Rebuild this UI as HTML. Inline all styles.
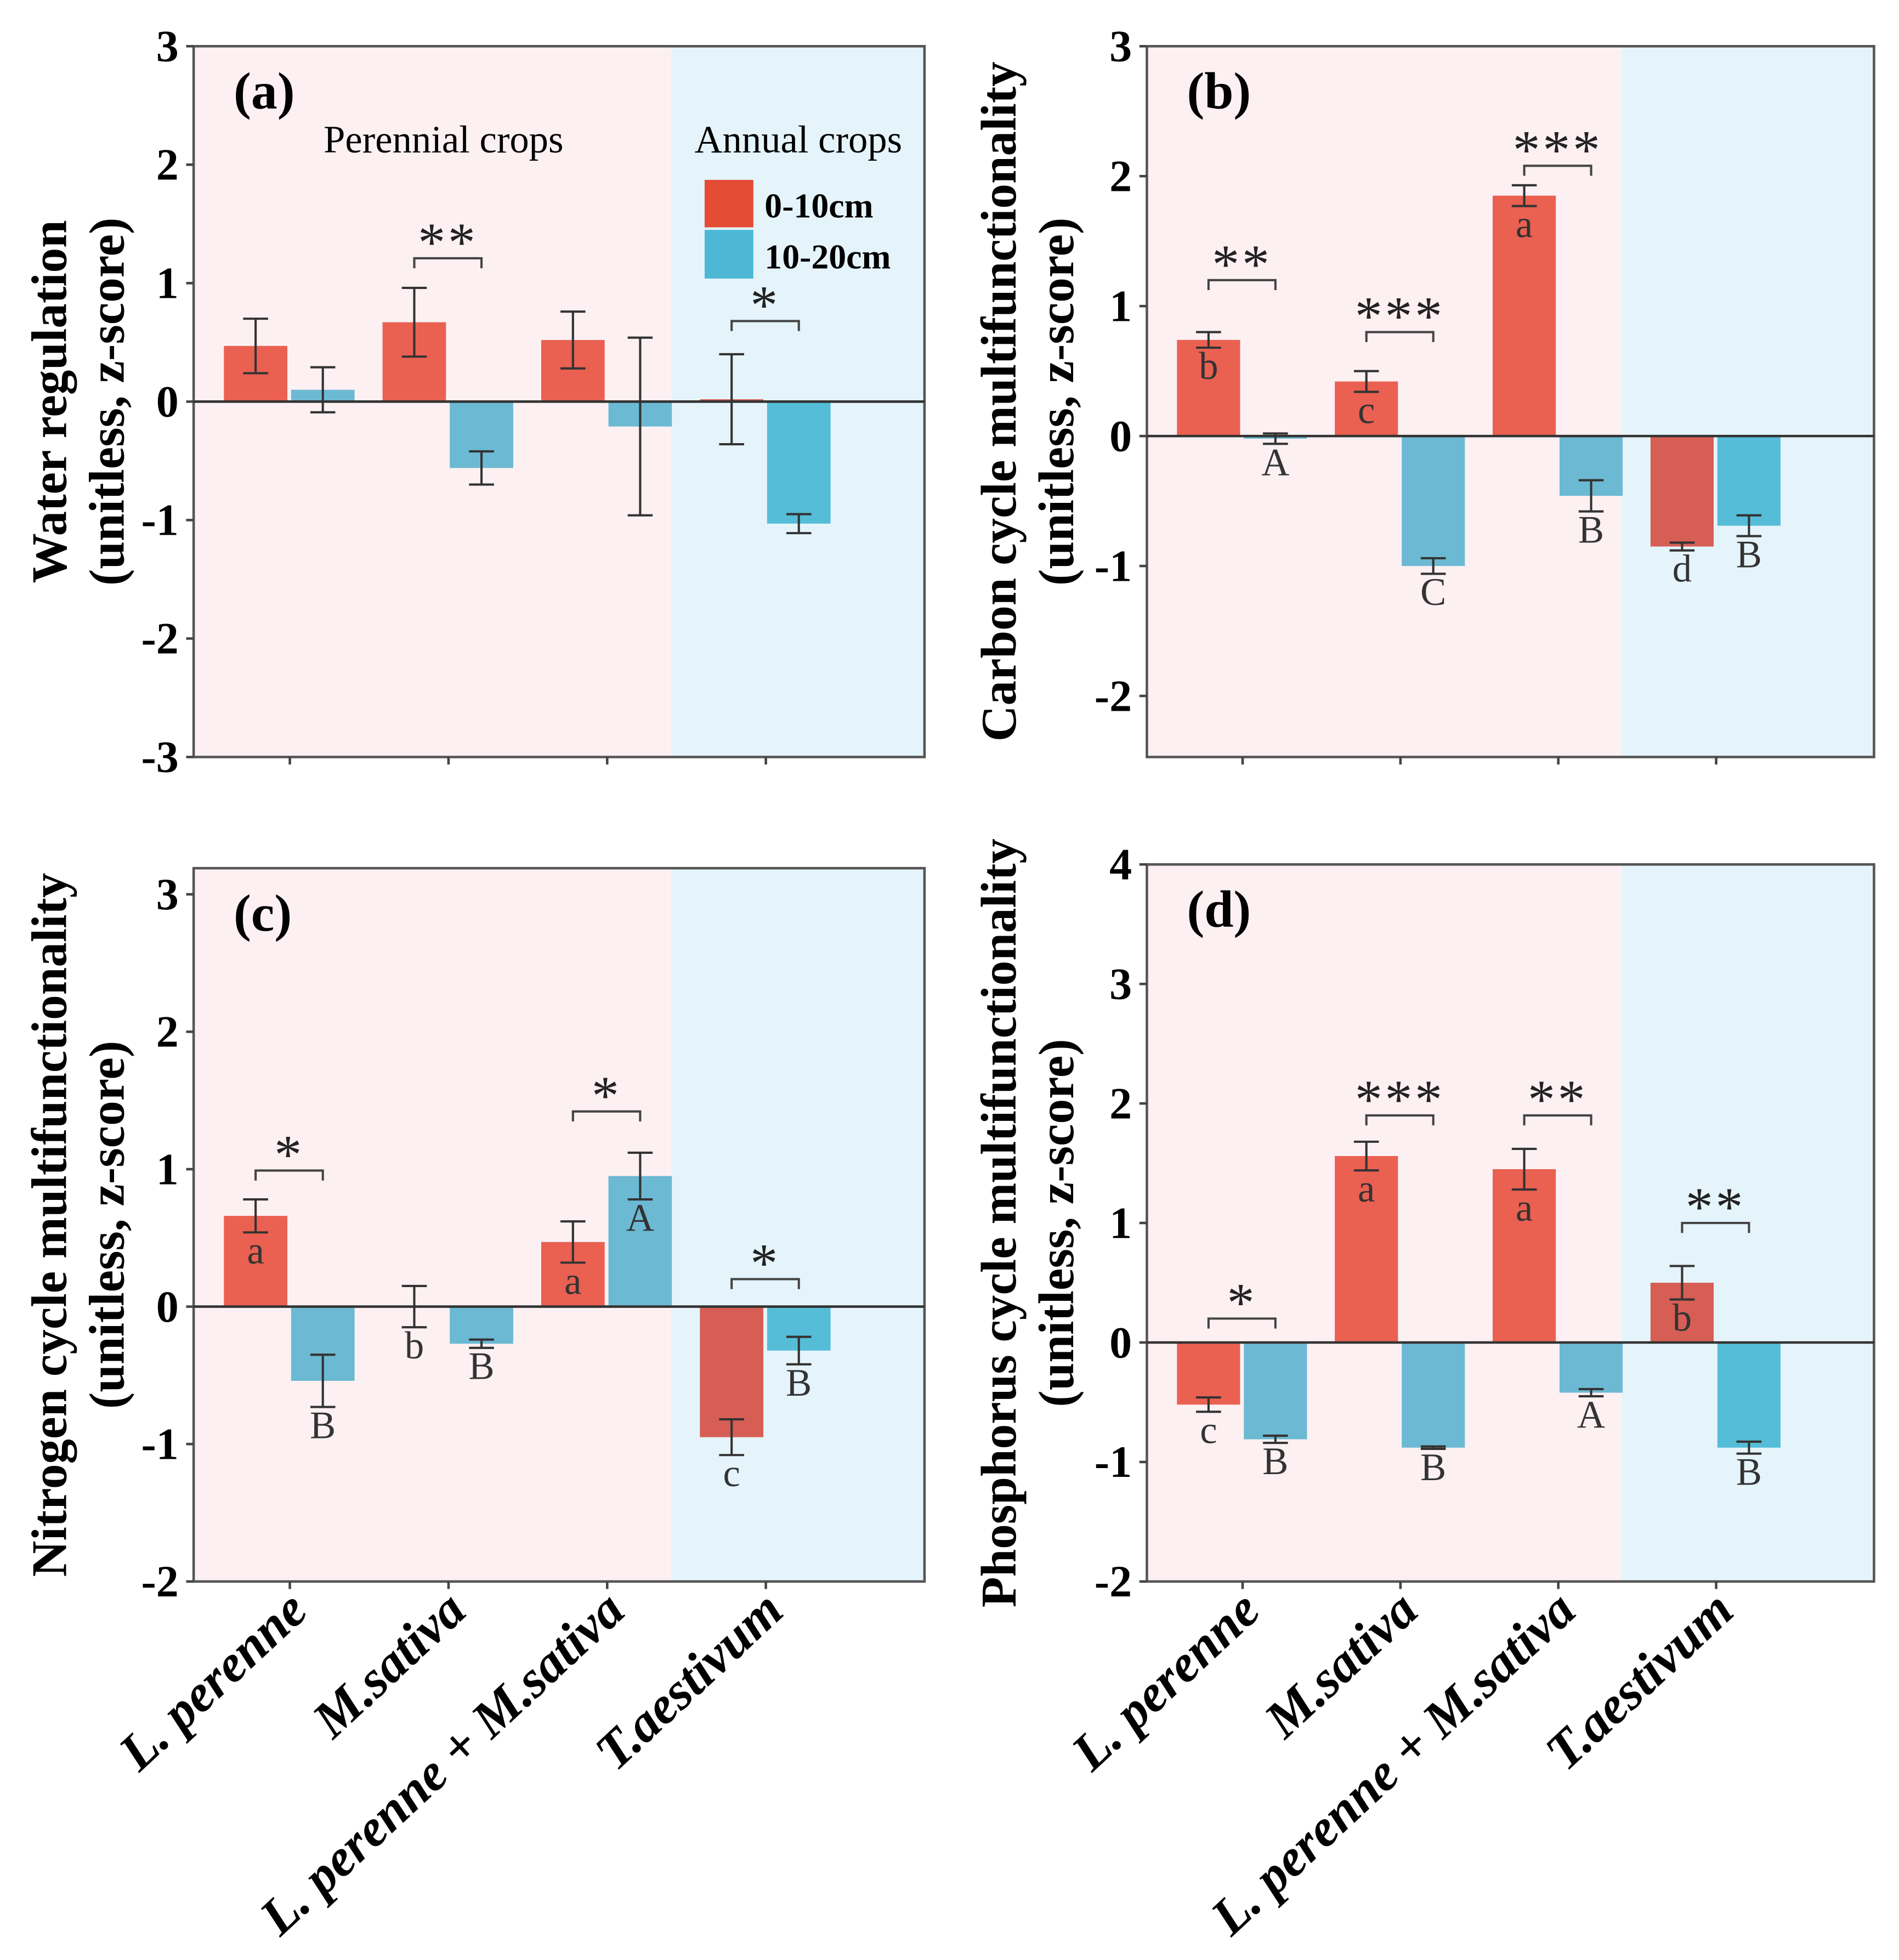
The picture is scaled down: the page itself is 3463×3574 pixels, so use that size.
<!DOCTYPE html>
<html><head><meta charset="utf-8"><style>
html,body{margin:0;padding:0;background:#fff;}
svg{display:block;}
text{font-family:"Liberation Serif",serif;}
</style></head><body>
<svg id="fig" width="3463" height="3574" viewBox="0 0 1520 1569" preserveAspectRatio="none" xmlns="http://www.w3.org/2000/svg"></svg>
<script>
const categories = ["L. perenne", "M.sativa", "L. perenne + M.sativa", "T.aestivum"];
// panel a
const aTop = [0.47, 0.67, 0.52, 0.02];
const aTopErr = [0.23, 0.29, 0.24, 0.38];
const aSub = [0.10, -0.56, -0.21, -1.03];
const aSubErr = [0.19, 0.14, 0.75, 0.08];
const aTopLetters = ["", "", "", ""];
const aSubLetters = ["", "", "", ""];
const aSig = ["", "**", "", "*"];
const aSigY = [0, 1.21, 0, 0.68];
const aTicks = [3, 2, 1, 0, -1, -2, -3];
// panel b
const bTop = [0.74, 0.42, 1.85, -0.85];
const bTopErr = [0.06, 0.08, 0.08, 0.03];
const bSub = [-0.02, -1.0, -0.46, -0.69];
const bSubErr = [0.04, 0.06, 0.12, 0.08];
const bTopLetters = ["b", "c", "a", "d"];
const bSubLetters = ["A", "C", "B", "B"];
const bSig = ["**", "***", "***", ""];
const bSigY = [1.2, 0.8, 2.08, 0];
const bTicks = [3, 2, 1, 0, -1, -2];
// panel c
const cTop = [0.66, 0.0, 0.47, -0.95];
const cTopErr = [0.12, 0.15, 0.15, 0.13];
const cSub = [-0.54, -0.27, 0.95, -0.32];
const cSubErr = [0.19, 0.03, 0.17, 0.10];
const cTopLetters = ["a", "b", "a", "c"];
const cSubLetters = ["B", "B", "A", "B"];
const cSig = ["*", "", "*", "*"];
const cSigY = [0.99, 0, 1.42, 0.2];
const cTicks = [3, 2, 1, 0, -1, -2];
// panel d
const dTop = [-0.52, 1.56, 1.45, 0.50];
const dTopErr = [0.06, 0.12, 0.17, 0.14];
const dSub = [-0.81, -0.88, -0.42, -0.88];
const dSubErr = [0.03, 0.01, 0.03, 0.05];
const dTopLetters = ["c", "a", "a", "b"];
const dSubLetters = ["B", "B", "A", "B"];
const dSig = ["*", "***", "**", "**"];
const dSigY = [0.2, 1.9, 1.9, 1.0];
const dTicks = [4, 3, 2, 1, 0, -1, -2];

const NS = "http://www.w3.org/2000/svg";
const svg = document.getElementById("fig");
function mk(tag, attrs, parent, txt) {
  const e = document.createElementNS(NS, tag);
  for (const k in attrs) e.setAttribute(k, attrs[k]);
  if (txt !== undefined) e.textContent = txt;
  (parent || svg).appendChild(e);
  return e;
}

const panels = [
  {id:"a", L:155, R:740, T:37, B:606, ymin:-3, ymax:3, top:aTop, topErr:aTopErr, sub:aSub, subErr:aSubErr, tl:aTopLetters, sl:aSubLetters, sig:aSig, sigY:aSigY, ticks:aTicks, title:["Water regulation","(unitless, z-score)"], tx:[40,86], xl:false},
  {id:"b", L:918, R:1500, T:37, B:606, ymin:-2.47, ymax:3, top:bTop, topErr:bTopErr, sub:bSub, subErr:bSubErr, tl:bTopLetters, sl:bSubLetters, sig:bSig, sigY:bSigY, ticks:bTicks, title:["Carbon cycle multifunctionality","(unitless, z-score)"], tx:[800,846], xl:false},
  {id:"c", L:155, R:740, T:695, B:1266, ymin:-2, ymax:3.19, top:cTop, topErr:cTopErr, sub:cSub, subErr:cSubErr, tl:cTopLetters, sl:cSubLetters, sig:cSig, sigY:cSigY, ticks:cTicks, title:["Nitrogen cycle multifunctionality","(unitless, z-score)"], tx:[40,86], xl:true},
  {id:"d", L:918, R:1500, T:692, B:1266, ymin:-2, ymax:4, top:dTop, topErr:dTopErr, sub:dSub, subErr:dSubErr, tl:dTopLetters, sl:dSubLetters, sig:dSig, sigY:dSigY, ticks:dTicks, title:["Phosphorus cycle multifunctionality","(unitless, z-score)"], tx:[800,846], xl:true}
];

panels.forEach(p => {
  const g = mk("g", {});
  
  
  const W = p.R - p.L;
  const step = W * 127 / 585;
  const x0 = p.L + W * 77 / 585;
  const xc = i => x0 + i * step;
  const y = v => p.B - (v - p.ymin) / (p.ymax - p.ymin) * (p.B - p.T);
  const split = p.L + W * 382 / 585;
  const bgP = mk("rect", {x:p.L, y:p.T, width:split - p.L, height:p.B - p.T, fill:"#fdf0f2"}, g);
  
  
  const bgA = mk("rect", {x:split, y:p.T, width:p.R - split, height:p.B - p.T, fill:"#e5f4fb"}, g);
  
  
  mk("rect", {x:p.L, y:p.T, width:W, height:p.B - p.T, fill:"none", stroke:"#555", "stroke-width":2}, g);
  p.ticks.forEach(t => {
    mk("line", {x1:p.L - 6, x2:p.L, y1:y(t), y2:y(t), stroke:"#444", "stroke-width":2}, g);
    const tl = mk("text", {x:p.L - 12, y:y(t) + 12, "text-anchor":"end", "font-size":36, "font-weight":"bold"}, g, String(t));
    
    
  });
  categories.forEach((c, i) => {
    mk("line", {x1:xc(i), x2:xc(i), y1:p.B, y2:p.B + 6, stroke:"#444", "stroke-width":2}, g);
    if (p.xl) {
      const lx = xc(i) + 16, ly = p.B + 26;
      const t = mk("text", {x:lx, y:ly, "text-anchor":"end", "font-size":42, "font-weight":"bold", "font-style":"italic", transform:`rotate(-43 ${lx} ${ly})`}, g, c);
      
      
    }
  });
  const bw = step * 0.4;
  categories.forEach((c, i) => {
    const annual = i === 3;
    [[p.top, p.topErr, p.tl, -1, annual ? "#d65e55" : "#ea6051"], [p.sub, p.subErr, p.sl, 1, annual ? "#55bdd8" : "#6cb9d3"]].forEach(([vals, errs, letters, side, col], s) => {
      const v = vals[i], e = errs[i];
      const bx = side < 0 ? xc(i) - bw - 2 : xc(i) + 1;
      const cx = bx + bw / 2;
      const bar = mk("rect", {x:bx, y:Math.min(y(v), y(0)), width:bw, height:Math.abs(y(v) - y(0)), fill:col}, g);
      
      
      const hi = y(v + e), lo = y(v - e);
      mk("line", {x1:cx, x2:cx, y1:hi, y2:lo, stroke:"#333", "stroke-width":1.8}, g);
      mk("line", {x1:cx - 10, x2:cx + 10, y1:hi, y2:hi, stroke:"#333", "stroke-width":1.8}, g);
      mk("line", {x1:cx - 10, x2:cx + 10, y1:lo, y2:lo, stroke:"#333", "stroke-width":1.8}, g);
      if (letters[i]) {
        const ly = y(v - e) + 25;
        const lt = mk("text", {x:cx, y:ly, "text-anchor":"middle", "font-size":31, fill:"#333"}, g, letters[i]);
        
        
      }
    });
    if (p.sig[i]) {
      const by = y(p.sigY[i]);
      const l = xc(i) - bw / 2 - 2, r = xc(i) + bw / 2 + 1;
      mk("path", {d:`M${l} ${by + 8}V${by}H${r}V${by + 8}`, fill:"none", stroke:"#444", "stroke-width":1.8}, g);
      const st = mk("text", {x:(l + r) / 2, y:by + 2, "text-anchor":"middle", "font-size":44, fill:"#222", "letter-spacing":2}, g, p.sig[i]);
      
      
    }
  });
  mk("line", {x1:p.L, x2:p.R, y1:y(0), y2:y(0), stroke:"#333", "stroke-width":2}, g);
  const pl = mk("text", {x:p.L + 32, y:p.T + 50, "font-size":42, "font-weight":"bold"}, g, "(" + p.id + ")");
  
  
  const cy = (p.T + p.B) / 2;
  p.title.forEach((tt, k) => {
    const t = mk("text", {x:p.tx[k], y:cy, "text-anchor":"middle", "font-size":40, "font-weight":"bold", transform:`rotate(-90 ${p.tx[k]} ${cy})`, dy:13}, g, tt);
    
    
  });
});

const per = mk("text", {x:355, y:122, "text-anchor":"middle", "font-size":31}, svg, "Perennial crops");


const ann = mk("text", {x:639, y:122, "text-anchor":"middle", "font-size":31}, svg, "Annual crops");


const lg = mk("g", {});


const s1 = mk("rect", {x:564, y:144, width:39, height:38, fill:"#e44c34"}, lg);


const s2 = mk("rect", {x:564, y:184, width:39, height:39, fill:"#4cb8d6"}, lg);


const t1 = mk("text", {x:612, y:174, "font-size":28, "font-weight":"bold"}, lg, "0-10cm");


const t2 = mk("text", {x:612, y:215, "font-size":28, "font-weight":"bold"}, lg, "10-20cm");


</script>
</body></html>
